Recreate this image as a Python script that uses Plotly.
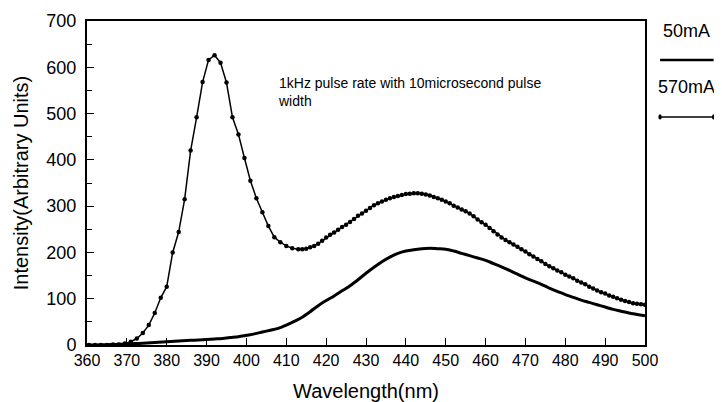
import plotly.graph_objects as go

# 570mA series (with markers)
wl_570 = [360.5, 362, 363.5, 365, 366.5, 368, 369.5, 371, 372.5, 374, 375.5, 377, 378.5, 380,
          381.5, 383, 384.5, 386, 387.5, 389, 390.5, 392, 393.5, 395, 396.5, 398, 399.5, 401,
          402.5, 404, 405.5, 407, 408.5, 410, 411.5,
          413, 414, 415, 416, 417, 418, 419, 420, 421, 422, 423, 424, 425, 426, 427, 428, 429,
          430, 431, 432, 433, 434, 435, 436, 437, 438, 439, 440, 441, 442, 443, 444, 445, 446,
          447, 448, 449, 450, 451, 452, 453, 454, 455, 456, 457, 458, 459, 460, 461, 462, 463,
          464, 465, 466, 467, 468, 469, 470, 471, 472, 473, 474, 475, 476, 477, 478, 479, 480,
          481, 482, 483, 484, 485, 486, 487, 488, 489, 490, 491, 492, 493, 494, 495, 496, 497,
          498, 499, 500]
int_570 = [0, 0, 0, 0, 1, 1, 3, 7, 14, 26, 43, 69, 102, 126,
           200, 244, 315, 420, 492, 568, 616, 626, 610, 567, 492, 455, 404, 355,
           317, 287, 257, 233, 222, 214, 209,
           207, 207, 208, 211, 214, 219, 225, 232, 238, 243, 249, 255, 260, 266, 272, 279, 284,
           290, 296, 302, 306, 310, 314, 317, 320, 322, 324, 326, 327, 328, 328, 327, 325, 323,
           320, 317, 314, 310, 306, 301, 297, 293, 289, 284, 278, 271, 265, 260, 253, 246, 239,
           232, 227, 222, 217, 212, 207, 202, 196, 191, 186, 181, 175, 170, 166, 161, 157, 152,
           148, 144, 139, 135, 131, 126, 122, 118, 114, 111, 107, 104, 101, 98, 95, 93, 90,
           89, 88, 87]

# 50mA series (solid line)
wl_50 = [360, 362, 364, 366, 368, 370, 372, 374, 376, 378, 380, 382, 384, 386, 388, 390, 392,
         394, 396, 398, 400, 402, 404, 406, 408, 410, 412, 414, 416, 418, 420, 422, 424, 426,
         428, 430, 432, 434, 436, 438, 440, 442, 444, 446, 448, 450, 452, 454, 456, 458, 460,
         462, 464, 466, 468, 470, 472, 474, 476, 478, 480, 482, 484, 486, 488, 490, 492, 494,
         496, 498, 500]
int_50 = [0, 0, 0.5, 1, 1.5, 2, 3, 4, 5, 6, 7, 8, 9, 10, 11, 12, 13,
          14, 16, 18, 21, 24, 28, 32, 36, 43, 51, 60, 72, 85, 96, 106, 117, 128,
          141, 155, 168, 180, 190, 198, 203, 206, 208, 209, 208, 207, 203, 198, 193, 188, 183,
          176, 169, 161, 153, 145, 138, 131, 123, 116, 109, 103, 97, 92, 87, 82, 77, 73,
          69, 66, 63]

x_ticks = [360, 370, 380, 390, 400, 410, 420, 430, 440, 450, 460, 470, 480, 490, 500]
y_ticks = [0, 100, 200, 300, 400, 500, 600, 700]
legend_labels = ["50mA", "570mA"]
note_text = "1kHz pulse rate with 10microsecond pulse<br>width"

FONT = "Liberation Sans, Arial, sans-serif"

fig = go.Figure()
fig.add_trace(go.Scatter(x=wl_50, y=int_50, mode="lines", name=legend_labels[0],
                         line=dict(color="black", width=3, shape="spline", smoothing=0.8),
                         showlegend=False))
fig.add_trace(go.Scatter(x=wl_570, y=int_570, mode="lines+markers", name=legend_labels[1],
                         line=dict(color="black", width=1.5),
                         marker=dict(color="black", size=4.5, symbol="circle"),
                         showlegend=False))

fig.update_layout(
    width=722, height=402,
    margin=dict(l=79, r=85, t=13, b=65, autoexpand=False),
    paper_bgcolor="white", plot_bgcolor="white",
    font=dict(family=FONT, color="black"),
    xaxis=dict(range=[360, 500], tickvals=x_ticks, ticktext=[str(v) for v in x_ticks],
               ticks="inside", ticklen=7, tickwidth=1, tickcolor="black",
               showline=True, linecolor="black", linewidth=2, mirror=True,
               showgrid=False, zeroline=False, automargin=False,
               tickfont=dict(size=16, family=FONT),
               title=dict(text="Wavelength(nm)", font=dict(size=20, family=FONT), standoff=16)),
    yaxis=dict(range=[0, 700], tickvals=y_ticks, ticktext=[str(v) for v in y_ticks],
               ticks="inside", ticklen=7, tickwidth=1, tickcolor="black",
               minor=dict(ticks="inside", ticklen=5, dtick=50, tickcolor="black"),
               showline=True, linecolor="black", linewidth=2, mirror=True,
               showgrid=False, zeroline=False, ticklabelstandoff=5, automargin=False,
               tickfont=dict(size=18, family=FONT),
               title=dict(text="Intensity(Arbitrary Units)", font=dict(size=20, family=FONT), standoff=12)),
)

fig.add_annotation(x=0.338, y=0.84, xref="paper", yref="paper", xanchor="left", yanchor="top",
                   align="left", showarrow=False, text=note_text,
                   font=dict(size=14, family=FONT))

# Legend drawn on the right
fig.add_annotation(x=1.074, y=0.969, xref="paper", yref="paper", xanchor="center", yanchor="middle",
                   showarrow=False, text=legend_labels[0], font=dict(size=18, family=FONT))
fig.add_shape(type="line", xref="paper", yref="paper", x0=1.027, x1=1.123, y0=0.880, y1=0.880,
              line=dict(color="black", width=2.5))
fig.add_annotation(x=1.074, y=0.796, xref="paper", yref="paper", xanchor="center", yanchor="middle",
                   showarrow=False, text=legend_labels[1], font=dict(size=18, family=FONT))
fig.add_shape(type="line", xref="paper", yref="paper", x0=1.027, x1=1.123, y0=0.704, y1=0.704,
              line=dict(color="black", width=1.5))
fig.add_shape(type="circle", xref="paper", yref="paper", x0=1.024, x1=1.030, y0=0.696, y1=0.712,
              fillcolor="black", line=dict(color="black", width=0))
fig.add_shape(type="circle", xref="paper", yref="paper", x0=1.120, x1=1.126, y0=0.696, y1=0.712,
              fillcolor="black", line=dict(color="black", width=0))

fig.write_html("out.html")
